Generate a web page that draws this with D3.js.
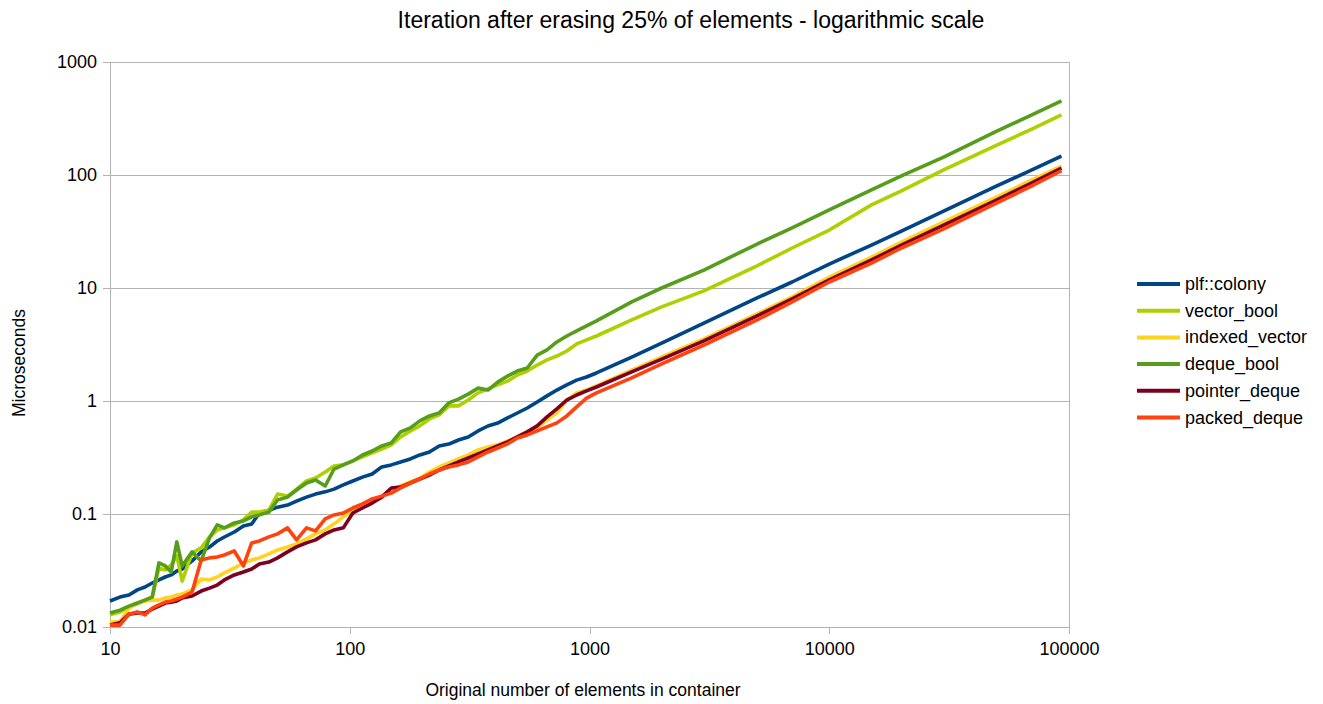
<!DOCTYPE html>
<head>
   <meta charset="utf-8">
   <script src="https://d3js.org/d3.v7.min.js"></script>
   <style>
   body{ margin: 0; background: #fff; }
   text{
      font-family: "Liberation Sans", Arial, sans-serif;
      fill: #000;
   }
   text.title{ font-size: 23px; }
   text.axisTitle{ font-size: 17.5px; }
   .tick text{ font-size: 18px; fill: #000; }
   .tick line{ stroke: #b3b3b3; shape-rendering: crispEdges; }
   path.domain{ stroke: #b3b3b3; shape-rendering: crispEdges; }
   line.grid{ stroke: #b3b3b3; shape-rendering: crispEdges; }
   text.legend{ font-size: 18px; }
   </style>
   <title>Iteration after erasing 25% of elements</title>
</head>
<body>
<script>
const width = 1323;
const height = 704;

const title = 'Iteration after erasing 25% of elements - logarithmic scale';
const xTitle = 'Original number of elements in container';
const yTitle = 'Microseconds';

// number of elements (x)
const sizes = [10,11,12,13,14,15,16,17,18,19,20,22,24,26,28,30,33,36,39,42,46,50,55,60,66,72,79,86,94,
   103,113,124,136,149,163,179,196,215,236,259,284,312,343,377,414,455,500,550,605,665,731,804,884,972,1069,
   1500,2000,3000,5000,7000,10000,15000,20000,30000,50000,70000,93000];

// microseconds, one array per container
const colony = [0.0170,0.0184,0.0192,0.0213,0.0226,0.0245,0.0261,0.0277,0.0289,0.0313,0.0326,0.0384,0.0461,0.0510,0.0577,0.0626,0.0693,0.0783,0.0816,0.102,0.108,0.115,0.120,0.130,0.141,0.150,0.157,0.166,0.181,
   0.196,0.212,0.226,0.261,0.272,0.288,0.307,0.333,0.354,0.400,0.416,0.452,0.480,0.543,0.601,0.638,0.708,0.783,0.867,0.980,1.11,1.25,1.39,1.53,1.63,1.77,
   2.45,3.26,4.90,8.17,11.3,16.3,24.0,31.9,48.0,80.0,111,147];

const vectorBool = [0.0128,0.0136,0.0150,0.0160,0.0173,0.0184,0.0333,0.0320,0.0354,0.0426,0.0255,0.0452,0.0501,0.0627,0.0723,0.0754,0.0801,0.0887,0.104,0.104,0.1085,0.150,0.144,0.166,0.196,0.208,0.235,0.266,0.272,
   0.295,0.320,0.347,0.376,0.409,0.481,0.544,0.602,0.694,0.754,0.905,0.905,1.02,1.18,1.28,1.39,1.50,1.70,1.84,2.08,2.31,2.50,2.77,3.20,3.47,3.76,
   5.22,6.80,9.43,15.7,22.6,32.6,54.4,72.3,111,184,255,340];

const indexedVector = [0.0111,0.0111,0.0147,0.0163,0.0170,0.0173,0.0173,0.0181,0.0184,0.0192,0.0196,0.0213,0.0266,0.0261,0.0277,0.0301,0.0333,0.0369,0.0392,0.0409,0.0443,0.0481,0.0511,0.0544,0.0602,0.0667,0.0723,0.0818,0.0943,
   0.1085,0.120,0.130,0.144,0.163,0.177,0.192,0.208,0.235,0.261,0.283,0.307,0.333,0.369,0.392,0.409,0.443,0.481,0.533,0.578,0.680,0.785,1.02,1.18,1.25,1.36,
   1.88,2.45,3.54,5.90,8.34,12.5,18.8,25.5,38.4,64.0,90.5,120];

const dequeBool = [0.0133,0.0141,0.0153,0.0163,0.0173,0.0184,0.0369,0.0347,0.0307,0.0566,0.0347,0.0462,0.0384,0.0614,0.0801,0.0754,0.0834,0.0869,0.0943,0.0982,0.104,0.133,0.141,0.163,0.188,0.200,0.177,0.250,0.272,
   0.295,0.333,0.361,0.400,0.426,0.533,0.578,0.667,0.738,0.785,0.963,1.04,1.15,1.30,1.25,1.47,1.66,1.84,1.96,2.55,2.83,3.33,3.76,4.17,4.62,5.11,
   7.54,10.0,14.4,24.5,34.0,49.1,73.8,98.2,144,245,340,452];

const pointerDeque = [0.0104,0.0109,0.0130,0.0133,0.0133,0.0144,0.0153,0.0163,0.0166,0.0170,0.0181,0.0188,0.0208,0.0221,0.0235,0.0261,0.0289,0.0307,0.0326,0.0361,0.0376,0.0409,0.0462,0.0511,0.0555,0.0590,0.0667,0.0723,0.0754,
   0.102,0.113,0.125,0.141,0.170,0.173,0.188,0.204,0.221,0.245,0.266,0.289,0.313,0.340,0.369,0.400,0.434,0.481,0.533,0.602,0.723,0.852,1.02,1.13,1.23,1.33,
   1.81,2.35,3.40,5.66,8.01,11.8,17.7,24.0,36.1,60.2,85.2,115];

const packedDeque = [0.0104,0.0104,0.0130,0.0136,0.0128,0.0147,0.0157,0.0166,0.0170,0.0177,0.0184,0.0204,0.0392,0.0409,0.0417,0.0434,0.0471,0.0347,0.0555,0.0578,0.0627,0.0667,0.0754,0.0590,0.0754,0.0709,0.0905,0.0982,0.102,
   0.113,0.123,0.136,0.144,0.153,0.170,0.188,0.204,0.226,0.245,0.261,0.272,0.289,0.320,0.354,0.384,0.417,0.471,0.501,0.544,0.590,0.640,0.738,0.887,1.06,1.18,
   1.60,2.13,3.13,5.22,7.54,11.3,16.6,22.6,33.3,56.6,80.1,109];

const seriesNames  = ['plf::colony','vector_bool','indexed_vector','deque_bool','pointer_deque','packed_deque'];
const seriesValues = [colony, vectorBool, indexedVector, dequeBool, pointerDeque, packedDeque];
const seriesColours = ['#004586','#aecf00','#ffd320','#579d1c','#7e0021','#ff420e'];

const xTicks = [10,100,1000,10000,100000];
const yTicks = [0.01,0.1,1,10,100,1000];

const margin = {top: 62, right: 254, bottom: 77, left: 110};

const svg = d3.select('body').append('svg')
   .attr('width', width)
   .attr('height', height);

const x = d3.scaleLog()
   .domain([10, 100000])
   .range([margin.left, width-margin.right]);

const y = d3.scaleLog()
   .domain([0.01, 1000])
   .range([height-margin.bottom, margin.top]);

// horizontal grid
svg.append('g')
   .selectAll('line.grid')
   .data(yTicks)
   .enter()
   .append('line')
   .attr('class', 'grid')
   .attr('x1', x(10))
   .attr('x2', x(100000))
   .attr('y1', d => y(d))
   .attr('y2', d => y(d));

// plot frame
svg.append('rect')
   .attr('x', x(10))
   .attr('y', y(1000))
   .attr('width', x(100000)-x(10))
   .attr('height', y(0.01)-y(1000))
   .style('fill', 'none')
   .style('stroke', '#b3b3b3')
   .style('shape-rendering', 'crispEdges');

const xAxis = d3.axisBottom(x)
   .tickValues(xTicks)
   .tickFormat(d => String(d))
   .tickSize(7)
   .tickPadding(8);

const yAxis = d3.axisLeft(y)
   .tickValues(yTicks)
   .tickFormat(d => String(d))
   .tickSize(7)
   .tickPadding(6);

svg.append('g')
   .attr('class', 'axis xAxis')
   .attr('transform', `translate(0, ${y(0.01)})`)
   .call(xAxis);

svg.append('g')
   .attr('class', 'axis yAxis')
   .attr('transform', `translate(${x(10)}, 0)`)
   .call(yAxis);

svg.selectAll('.tick text').attr('font-family', null);

const line = d3.line()
   .x(d => x(d[0]))
   .y(d => y(d[1]));

seriesValues.forEach((vals, i) => {
   svg.append('path')
      .datum(sizes.map((s, j) => [s, vals[j]]))
      .attr('d', line)
      .style('fill', 'none')
      .style('stroke', seriesColours[i])
      .style('stroke-width', 3.6)
      .style('stroke-linejoin', 'round');
});

svg.append('text')
   .attr('class', 'title')
   .attr('x', 691)
   .attr('y', 28)
   .style('text-anchor', 'middle')
   .text(title);

svg.append('text')
   .attr('class', 'axisTitle')
   .attr('x', 583)
   .attr('y', 696)
   .style('text-anchor', 'middle')
   .text(xTitle);

svg.append('text')
   .attr('class', 'axisTitle')
   .attr('transform', 'translate(25, 363) rotate(-90)')
   .style('text-anchor', 'middle')
   .text(yTitle);

// legend
const legend = svg.append('g')
   .attr('transform', 'translate(1137, 284)');

seriesNames.forEach((name, i) => {
   const row = legend.append('g').attr('transform', `translate(0, ${i*26.7})`);
   row.append('line')
      .attr('x1', 0).attr('x2', 43)
      .attr('y1', 0).attr('y2', 0)
      .style('stroke', seriesColours[i])
      .style('stroke-width', 4);
   row.append('text')
      .attr('class', 'legend')
      .attr('x', 48)
      .attr('y', 6)
      .text(name);
});
</script>
</body>
